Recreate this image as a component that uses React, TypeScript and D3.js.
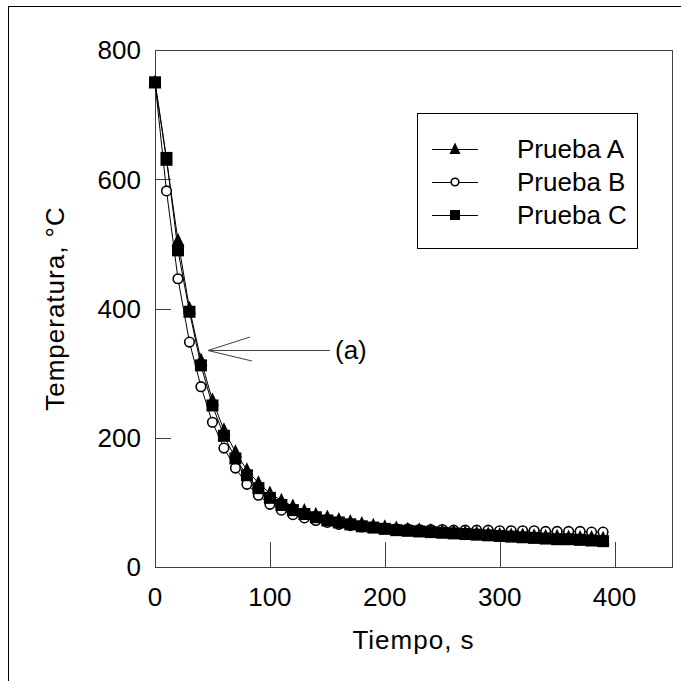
import React from "react";
import * as d3 from "d3";

const tiempo = [0,10,20,30,40,50,60,70,80,90,100,110,120,130,140,150,160,170,180,190,200,210,220,230,240,250,260,270,280,290,300,310,320,330,340,350,360,370,380,390];
const pruebaA = [750,630,505,400,320,258,212,178,150,130,114,103,94,87,81,77,73,70,67,64,62,60,58,57,56,55,54,53,52,51,50,49,49,48,47,47,46,45,45,44];
const pruebaB = [750,582,446,348,279,224,184,153,128,111,97,88,81,76,72,69,66,64,62,61,60,59,59,58,58,58,57,57,57,57,56,56,56,56,55,55,55,55,54,54];
const pruebaC = [750,633,490,395,312,250,203,168,142,122,107,96,88,82,77,72,69,66,63,61,59,57,56,55,54,53,52,51,50,49,48,47,46,45,44,43,43,42,41,40];
const xTicks = [0,100,200,300,400];
const yTicks = [0,200,400,600,800];
const seriesNames = ["Prueba A","Prueba B","Prueba C"];

const FONT = "Liberation Sans, Arial, sans-serif";
const FS = 26;

export default function App() {
  const left = 155, right = 672, top = 50, bottom = 567;
  const x = d3.scaleLinear().domain([0,450]).range([left,right]);
  const y = d3.scaleLinear().domain([0,800]).range([bottom,top]);
  const line = d3.line<number>().x((_, i) => x(tiempo[i])).y(d => y(d));

  const tri = (cx: number, cy: number, s: number) =>
    `M${cx},${cy - s * 0.6}L${cx + s / 2},${cy + s * 0.45}L${cx - s / 2},${cy + s * 0.45}Z`;

  const drawMarker = (kind: string, cx: number, cy: number, key: any, small = false) => {
    if (kind === "A") return <path key={key} d={tri(cx, cy, small ? 11 : 13)} fill="#000" />;
    if (kind === "B") return <circle key={key} cx={cx} cy={cy} r={small ? 3.8 : 4.8} fill="#fff" stroke="#000" strokeWidth={1.6} />;
    const s = small ? 10 : 12;
    return <rect key={key} x={cx - s / 2} y={cy - s / 2} width={s} height={s} fill="#000" />;
  };

  const series = [
    { k: "B", v: pruebaB },
    { k: "A", v: pruebaA },
    { k: "C", v: pruebaC },
  ];

  const legendRows = [
    { k: "A", name: seriesNames[0], cy: 149 },
    { k: "B", name: seriesNames[1], cy: 182 },
    { k: "C", name: seriesNames[2], cy: 215 },
  ];

  return (
    <svg width={681} height={681} style={{ display: "block", position: "absolute", left: 0, top: 0 }}>
      <rect x={0} y={0} width={681} height={681} fill="#fff" />
      <rect x={8.5} y={6.5} width={700} height={700} fill="none" stroke="#000" strokeWidth={1} />
      <rect x={left + 0.5} y={top + 0.5} width={right - left} height={bottom - top} fill="none" stroke="#404040" strokeWidth={1} />
      {yTicks.filter(t => t > 0 && t < 800).map(t => (
        <line key={"yt" + t} x1={left} x2={left + 16} y1={Math.round(y(t)) + 0.5} y2={Math.round(y(t)) + 0.5} stroke="#404040" />
      ))}
      {xTicks.filter(t => t > 0).map(t => (
        <line key={"xt" + t} x1={Math.round(x(t)) + 0.5} x2={Math.round(x(t)) + 0.5} y1={bottom} y2={bottom - 25} stroke="#404040" />
      ))}
      {yTicks.map(t => (
        <text key={"yl" + t} x={left - 14} y={y(t)} dy="0.36em" textAnchor="end" fontFamily={FONT} fontSize={FS}>{t}</text>
      ))}
      {xTicks.map(t => (
        <text key={"xl" + t} x={x(t)} y={bottom + 30} dy="0.36em" textAnchor="middle" fontFamily={FONT} fontSize={FS}>{t}</text>
      ))}
      <text x={(left + right) / 2} y={640} dy="0.36em" textAnchor="middle" fontFamily={FONT} fontSize={FS} letterSpacing={1}>Tiempo, s</text>
      <text transform={`translate(55,${(top + bottom) / 2}) rotate(-90)`} dy="0.36em" textAnchor="middle" fontFamily={FONT} fontSize={FS} letterSpacing={1}>Temperatura, °C</text>
      {series.map(s => (
        <path key={"l" + s.k} d={line(s.v) || ""} fill="none" stroke="#000" strokeWidth={1} />
      ))}
      {series.map(s => s.v.map((v, i) => drawMarker(s.k, x(tiempo[i]), y(v), s.k + i)))}
      <line x1={208} y1={350.5} x2={330} y2={350.5} stroke="#404040" />
      <line x1={208} y1={350.5} x2={250} y2={337} stroke="#404040" />
      <line x1={208} y1={350.5} x2={252} y2={361} stroke="#404040" />
      <text x={335} y={350} dy="0.36em" fontFamily={FONT} fontSize={FS}>(a)</text>
      <rect x={417.5} y={113.5} width={220} height={135} fill="#fff" stroke="#000" strokeWidth={1} />
      {legendRows.map(r => (
        <g key={"lg" + r.k}>
          <line x1={432} x2={478} y1={r.cy + 0.5} y2={r.cy + 0.5} stroke="#000" />
          {drawMarker(r.k, 455, r.cy, "m" + r.k, true)}
          <text x={517} y={r.cy} dy="0.36em" fontFamily={FONT} fontSize={FS}>{r.name}</text>
        </g>
      ))}
    </svg>
  );
}
